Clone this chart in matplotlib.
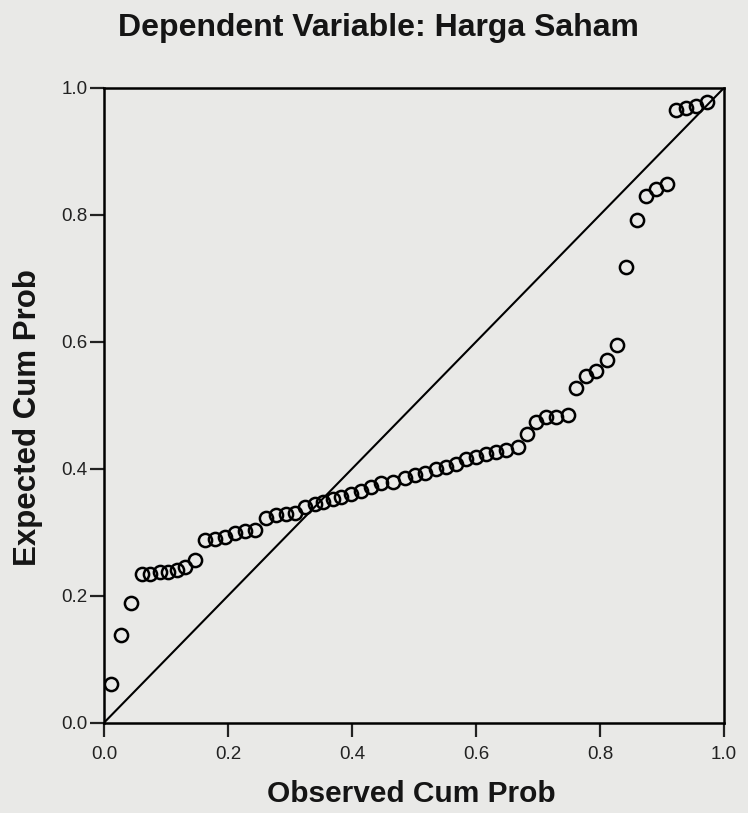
import matplotlib
matplotlib.use("Agg")
import matplotlib.pyplot as plt

# Observed cumulative probability (x) and expected cumulative probability (y)
observed = [0.011, 0.027, 0.043, 0.061, 0.074, 0.090, 0.103, 0.117, 0.130, 0.147,
            0.163, 0.179, 0.195, 0.211, 0.227, 0.243, 0.262, 0.278, 0.294, 0.308,
            0.324, 0.340, 0.353, 0.369, 0.383, 0.399, 0.415, 0.431, 0.447, 0.466,
            0.485, 0.501, 0.517, 0.536, 0.552, 0.568, 0.584, 0.600, 0.616, 0.632,
            0.648, 0.667, 0.683, 0.697, 0.713, 0.729, 0.748, 0.761, 0.777, 0.793,
            0.812, 0.828, 0.842, 0.859, 0.874, 0.891, 0.908, 0.922, 0.938, 0.954,
            0.973]
expected = [0.061, 0.138, 0.188, 0.234, 0.235, 0.237, 0.238, 0.241, 0.245, 0.257,
            0.288, 0.290, 0.293, 0.299, 0.302, 0.304, 0.322, 0.327, 0.329, 0.330,
            0.340, 0.345, 0.348, 0.352, 0.356, 0.361, 0.365, 0.371, 0.377, 0.379,
            0.386, 0.390, 0.393, 0.399, 0.403, 0.407, 0.416, 0.418, 0.423, 0.426,
            0.430, 0.434, 0.455, 0.473, 0.481, 0.482, 0.484, 0.528, 0.546, 0.554,
            0.572, 0.595, 0.718, 0.792, 0.830, 0.840, 0.848, 0.965, 0.968, 0.971,
            0.978]
ticks = [0.0, 0.2, 0.4, 0.6, 0.8, 1.0]
tick_labels = ["0.0", "0.2", "0.4", "0.6", "0.8", "1.0"]
ref_line = [0.0, 1.0]

title = "Dependent Variable: Harga Saham"
xlabel = "Observed Cum Prob"
ylabel = "Expected Cum Prob"

plt.rcParams['font.family'] = ['Liberation Sans', 'DejaVu Sans']
bg = '#e9e9e7'
ink = '#151515'

fig = plt.figure(figsize=(7.48, 8.13), dpi=100, facecolor=bg)
ax = fig.add_axes([0.139, 0.111, 0.829, 0.781], facecolor=bg)

ax.plot(ref_line, ref_line, color='black', lw=1.5, zorder=2)
ax.plot(observed, expected, linestyle='none', marker='o', markersize=9.5,
        markerfacecolor='none', markeredgecolor='black', markeredgewidth=1.8, zorder=3)

ax.set_xlim(0, 1)
ax.set_ylim(0, 1)
ax.set_xticks(ticks)
ax.set_xticklabels(tick_labels)
ax.set_yticks(ticks)
ax.set_yticklabels(tick_labels)
ax.tick_params(direction='out', length=10, width=1.6, labelsize=13.5, colors='#222222')
ax.tick_params(axis='x', pad=7)
ax.tick_params(axis='y', pad=2)

for s in ax.spines.values():
    s.set_linewidth(1.8)
    s.set_color('black')

fig.text(0.5505, 1 - 794 / 813, xlabel, ha='center', va='center', fontsize=21.5,
         fontweight='bold', color=ink)
fig.text(28 / 748, 1 - 418 / 813, ylabel, ha='center', va='center', rotation=90,
         fontsize=22.5, fontweight='bold', color=ink)
fig.text(378 / 748, 1 - 36 / 813, title, ha='center', va='baseline', fontsize=23,
         fontweight='bold', color=ink)

fig.savefig("out.png", dpi=100, facecolor=bg)
